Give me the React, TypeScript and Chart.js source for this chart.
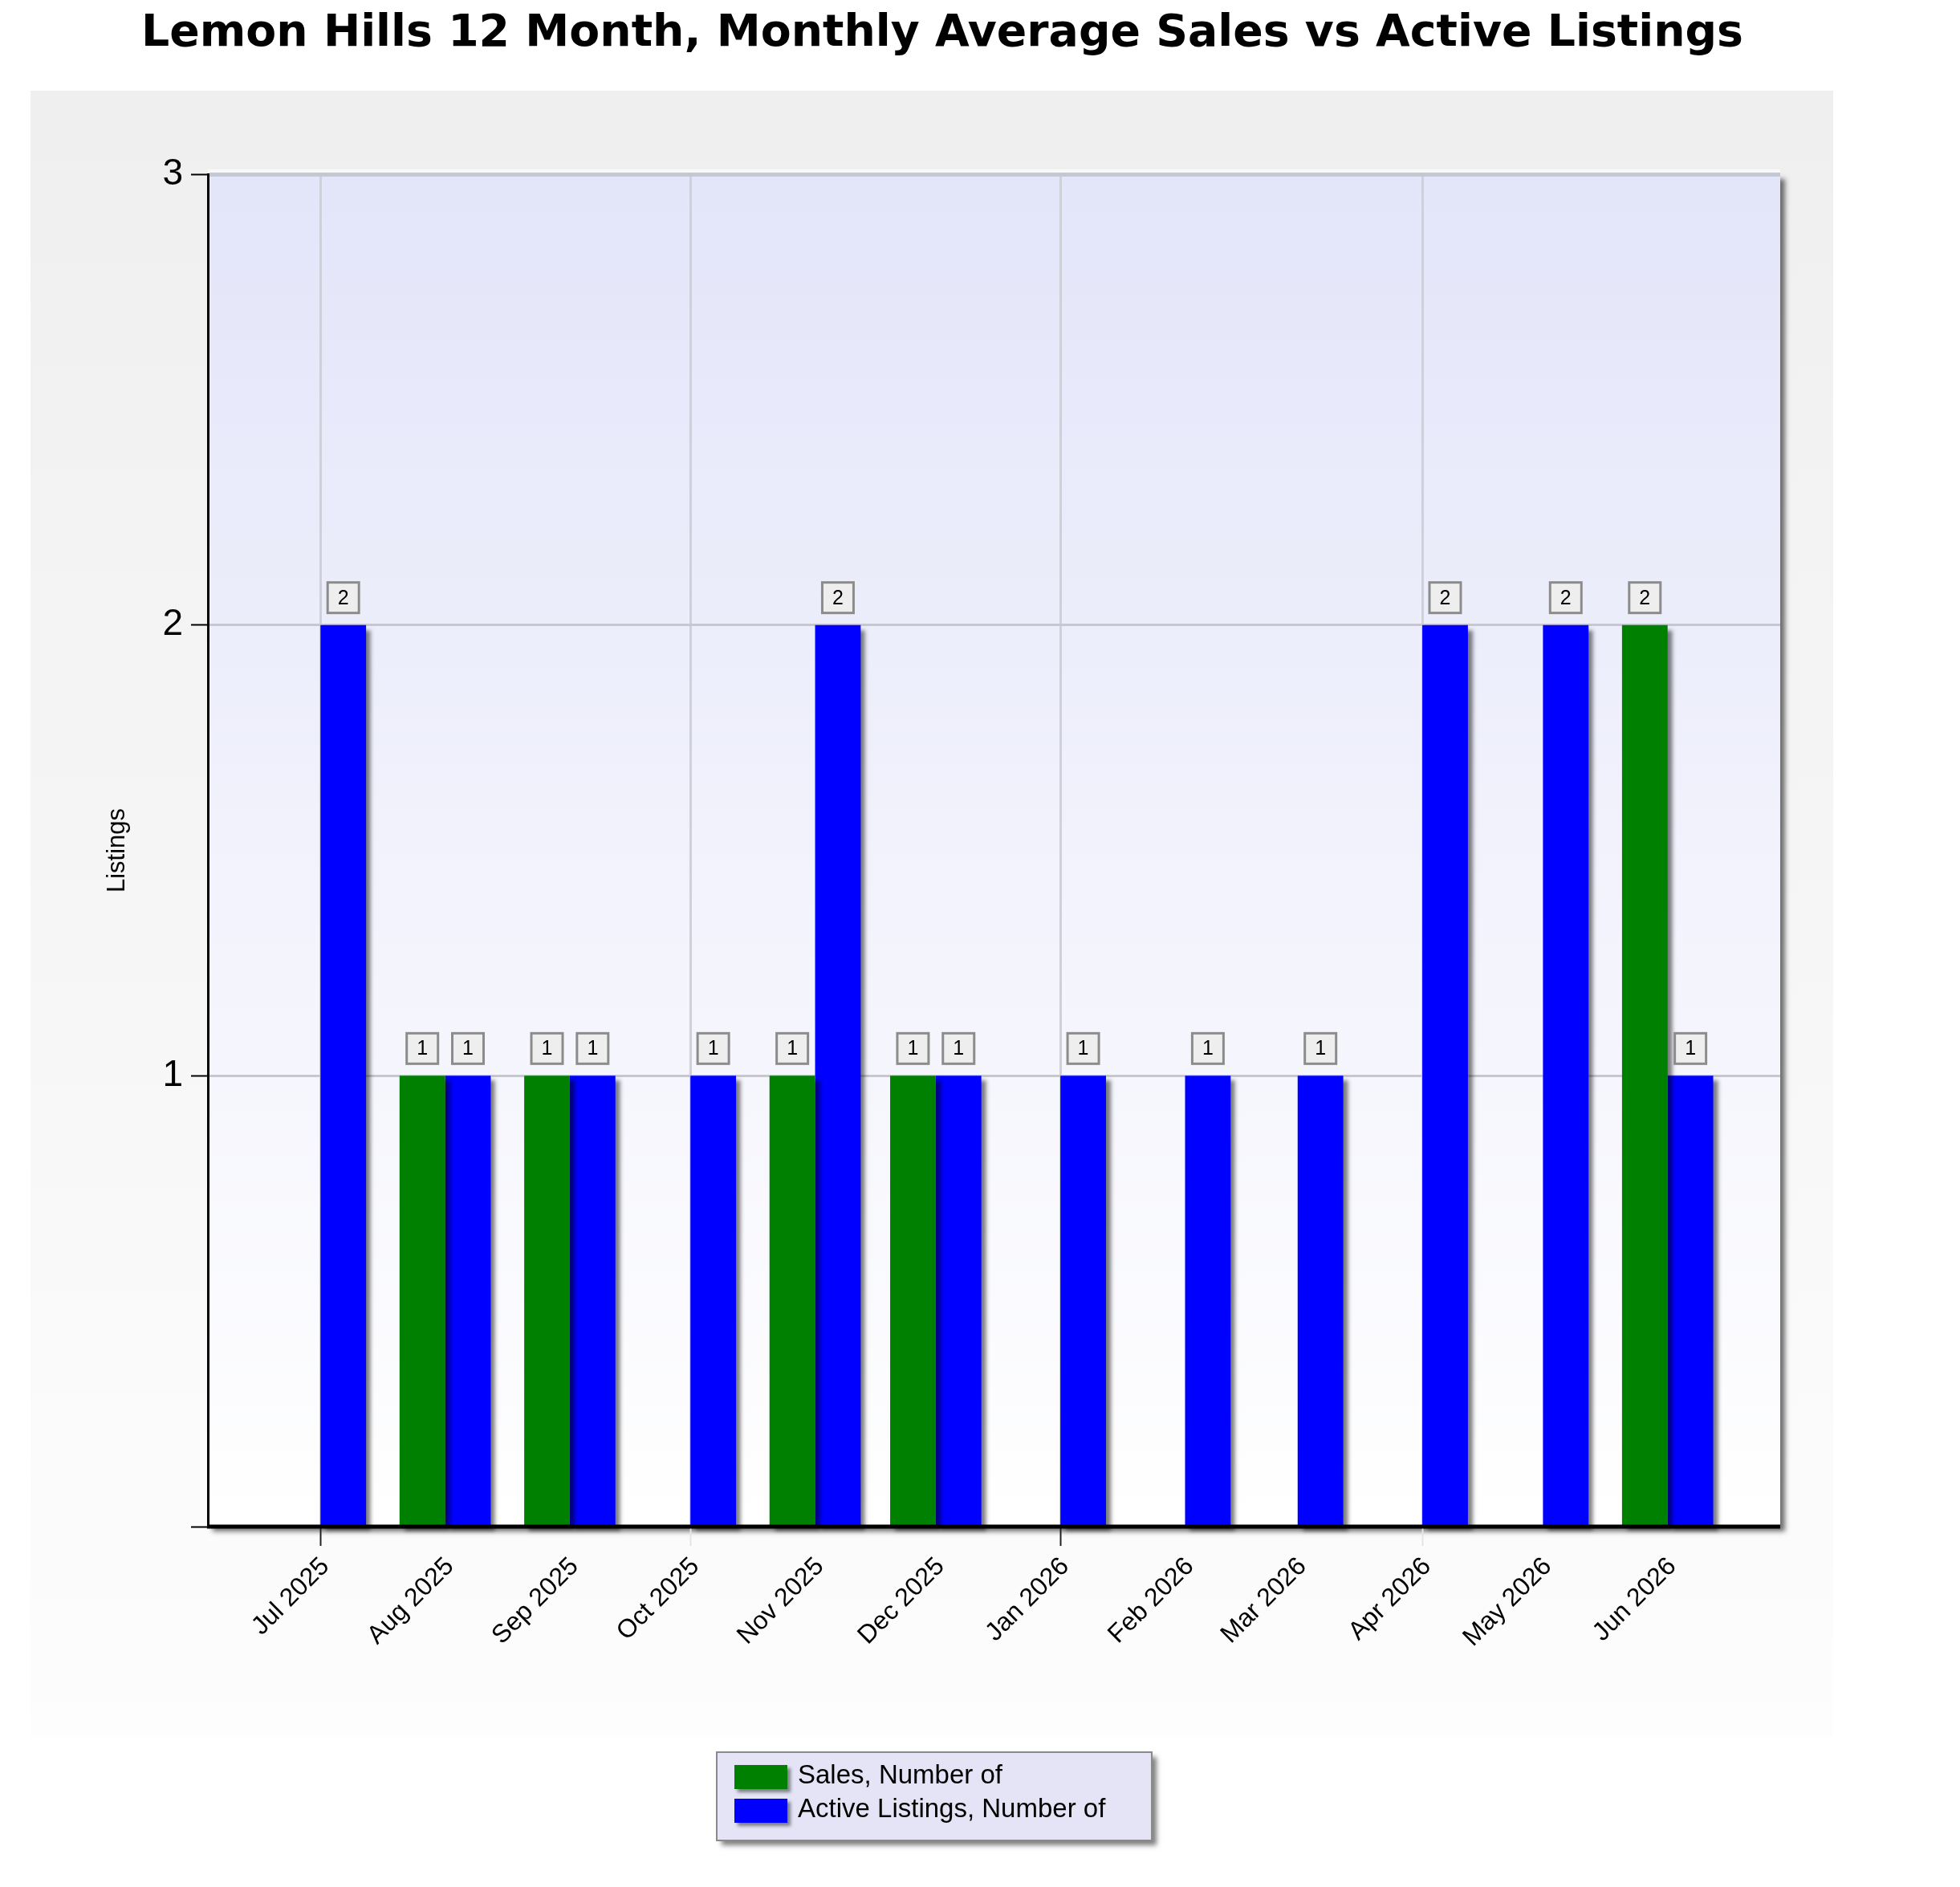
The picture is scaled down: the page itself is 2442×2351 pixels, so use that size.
import React, { useEffect, useRef } from 'react';
import { Chart, registerables } from 'chart.js';

Chart.register(...registerables);

const TITLE = 'Lemon Hills 12 Month, Monthly Average Sales vs Active Listings';
const Y_TITLE = 'Listings';
const MONTH_LABELS = [
  'Jul 2025', 'Aug 2025', 'Sep 2025', 'Oct 2025', 'Nov 2025', 'Dec 2025',
  'Jan 2026', 'Feb 2026', 'Mar 2026', 'Apr 2026', 'May 2026', 'Jun 2026',
];
const START_YEAR = 2025;
const START_MONTH = 6; // July (0-based)
const GRID_MONTHS = ['Jul 2025', 'Oct 2025', 'Jan 2026', 'Apr 2026'];
const DARK_TICK_MONTHS = ['Jul 2025', 'Jan 2026'];
const SALES = [0, 1, 1, 0, 1, 1, 0, 0, 0, 0, 0, 2];
const ACTIVE = [2, 1, 1, 1, 2, 1, 1, 1, 1, 2, 2, 1];
const SERIES_LABELS = ['Sales, Number of', 'Active Listings, Number of'];
const SERIES_COLORS = ['#008000', '#0000ff'];
const Y_MIN = 0;
const Y_MAX = 3;
const X_PAD_DAYS = 28;

const DAY_MS = 86400000;
const T0 = Date.UTC(START_YEAR, START_MONTH, 1);
const DAY_OFFSETS = MONTH_LABELS.map((_, i) =>
  Math.round((Date.UTC(START_YEAR, START_MONTH + i, 1) - T0) / DAY_MS)
);
const dayOf = (label: string) => DAY_OFFSETS[MONTH_LABELS.indexOf(label)];

const FONT = '"Liberation Sans", Arial, Helvetica, sans-serif';

const backgroundPlugin = {
  id: 'bgPanel',
  beforeDraw(chart: any) {
    const { ctx, chartArea: a } = chart;
    ctx.save();
    const g = ctx.createLinearGradient(0, 113, 0, 2164);
    g.addColorStop(0, '#efefef');
    g.addColorStop(1, '#fdfdfd');
    ctx.fillStyle = g;
    ctx.fillRect(38, 113, 2246, 2051);
    ctx.save();
    ctx.shadowColor = 'rgba(0,0,0,0.55)';
    ctx.shadowOffsetX = 6;
    ctx.shadowOffsetY = 6;
    ctx.shadowBlur = 6;
    ctx.fillStyle = '#ffffff';
    ctx.fillRect(a.left, a.top, a.right - a.left, a.bottom - a.top);
    ctx.restore();
    const pg = ctx.createLinearGradient(0, a.top, 0, a.bottom);
    pg.addColorStop(0, '#e3e5f9');
    pg.addColorStop(1, '#ffffff');
    ctx.fillStyle = pg;
    ctx.fillRect(a.left, a.top, a.right - a.left, a.bottom - a.top);
    // light highlight band just above the plot top
    ctx.fillStyle = 'rgba(255,255,255,0.6)';
    ctx.fillRect(a.left, a.top - 6, a.right - a.left, 4);
    ctx.font = 'bold 55px "DejaVu Sans", Verdana, sans-serif';
    ctx.fillStyle = '#000';
    ctx.textBaseline = 'alphabetic';
    ctx.textAlign = 'left';
    const w = ctx.measureText(TITLE).width;
    const target = 1996;
    ctx.translate(176, 57);
    ctx.scale(target / w, 1);
    ctx.fillText(TITLE, 0, 0);
    ctx.restore();
  },
};

const barShadowPlugin = {
  id: 'barShadow',
  beforeDatasetsDraw(chart: any) {
    const ctx = chart.ctx;
    ctx.save();
    ctx.shadowColor = 'rgba(0,0,0,0.5)';
    ctx.shadowOffsetX = 6;
    ctx.shadowOffsetY = 6;
    ctx.shadowBlur = 5;
  },
  afterDatasetsDraw(chart: any) {
    const { ctx, chartArea: a } = chart;
    ctx.restore();
    ctx.save();
    ctx.strokeStyle = '#000';
    ctx.lineWidth = 5;
    ctx.beginPath();
    ctx.moveTo(a.left - 1, a.bottom);
    ctx.lineTo(a.right, a.bottom);
    ctx.stroke();
    ctx.font = `25px ${FONT}`;
    ctx.textAlign = 'center';
    ctx.textBaseline = 'middle';
    chart.data.datasets.forEach((ds: any, di: number) => {
      const meta = chart.getDatasetMeta(di);
      meta.data.forEach((el: any, i: number) => {
        const v = ds.data[i].y;
        if (!v) return;
        const bw = 39;
        const bh = 38;
        const cx = el.x;
        const bottom = el.y - 15;
        ctx.fillStyle = '#eeeeee';
        ctx.fillRect(cx - bw / 2, bottom - bh, bw, bh);
        ctx.strokeStyle = '#8c8c8c';
        ctx.lineWidth = 3;
        ctx.strokeRect(cx - bw / 2, bottom - bh, bw, bh);
        ctx.fillStyle = '#000';
        ctx.fillText(String(v), cx, bottom - bh / 2 + 1);
      });
    });
    ctx.restore();
  },
};

const legendPlugin = {
  id: 'boxLegend',
  afterDraw(chart: any) {
    const ctx = chart.ctx;
    const x = 893;
    const y = 2183;
    const w = 542;
    const h = 110;
    ctx.save();
    ctx.save();
    ctx.shadowColor = 'rgba(0,0,0,0.5)';
    ctx.shadowOffsetX = 6;
    ctx.shadowOffsetY = 6;
    ctx.shadowBlur = 6;
    ctx.fillStyle = '#e4e4f6';
    ctx.fillRect(x, y, w, h);
    ctx.restore();
    ctx.strokeStyle = '#8a8a8a';
    ctx.lineWidth = 2;
    ctx.strokeRect(x, y, w, h);
    ctx.font = `33px ${FONT}`;
    ctx.textBaseline = 'middle';
    ctx.textAlign = 'left';
    chart.data.datasets.forEach((ds: any, i: number) => {
      const sy = y + 16 + i * 42;
      ctx.save();
      ctx.shadowColor = 'rgba(0,0,0,0.45)';
      ctx.shadowOffsetX = 4;
      ctx.shadowOffsetY = 4;
      ctx.shadowBlur = 4;
      ctx.fillStyle = ds.backgroundColor;
      ctx.fillRect(x + 22, sy, 66, 30);
      ctx.restore();
      ctx.fillStyle = '#000';
      ctx.fillText(ds.label, x + 101, sy + 14);
    });
    ctx.restore();
  },
};

export default function App() {
  const canvasRef = useRef<HTMLCanvasElement | null>(null);

  useEffect(() => {
    if (!canvasRef.current) return;
    const quarterDays = GRID_MONTHS.map(dayOf);
    const darkDays = DARK_TICK_MONTHS.map(dayOf);
    const chart = new Chart(canvasRef.current, {
      type: 'bar',
      data: {
        datasets: [
          {
            label: SERIES_LABELS[0],
            data: DAY_OFFSETS.map((x, i) => ({ x, y: SALES[i] })),
            backgroundColor: SERIES_COLORS[0],
            borderWidth: 0,
            categoryPercentage: 0.81,
            barPercentage: 1,
            clip: false as any,
          },
          {
            label: SERIES_LABELS[1],
            data: DAY_OFFSETS.map((x, i) => ({ x, y: ACTIVE[i] })),
            backgroundColor: SERIES_COLORS[1],
            borderWidth: 0,
            categoryPercentage: 0.81,
            barPercentage: 1,
            clip: false as any,
          },
        ],
      } as any,
      options: {
        animation: false,
        responsive: true,
        maintainAspectRatio: false,
        devicePixelRatio: 1,
        layout: { padding: { left: 0, top: 217, right: 224, bottom: 0 } },
        plugins: {
          legend: { display: false },
          title: { display: false },
          tooltip: { enabled: false },
        },
        scales: {
          x: {
            type: 'linear',
            min: DAY_OFFSETS[0] - X_PAD_DAYS,
            max: DAY_OFFSETS[DAY_OFFSETS.length - 1] + X_PAD_DAYS,
            offset: false,
            afterBuildTicks: (s: any) => {
              s.ticks = DAY_OFFSETS.map((v) => ({ value: v }));
            },
            afterFit: (s: any) => {
              s.height = 449;
            },
            ticks: {
              autoSkip: false,
              minRotation: 45,
              maxRotation: 45,
              padding: 7,
              labelOffset: 6,
              color: '#000',
              font: { family: FONT, size: 32 },
              callback: (_v: any, i: number) => MONTH_LABELS[i],
            },
            grid: {
              offset: false,
              color: (c: any) =>
                c.tick && quarterDays.includes(c.tick.value) ? '#cfd0da' : 'rgba(0,0,0,0)',
              lineWidth: 3,
              tickLength: 24,
              tickWidth: 2,
              tickColor: (c: any) =>
                c.tick && darkDays.includes(c.tick.value)
                  ? '#222'
                  : c.tick && quarterDays.includes(c.tick.value)
                  ? '#e4e4e4'
                  : 'rgba(0,0,0,0)',
            },
            border: { display: false },
          },
          y: {
            min: Y_MIN,
            max: Y_MAX,
            afterFit: (s: any) => {
              s.width = 259;
            },
            ticks: {
              stepSize: 1,
              padding: 10,
              color: '#000',
              font: { family: FONT, size: 46 },
              callback: (v: any) => (v === 0 ? '' : String(v)),
            },
            grid: {
              color: (c: any) =>
                c.tick && c.tick.value === Y_MAX
                  ? '#c4c8d2'
                  : c.tick && c.tick.value === Y_MIN
                  ? 'rgba(0,0,0,0)'
                  : '#c8c8cc',
              lineWidth: (c: any) => (c.tick && c.tick.value === Y_MAX ? 5 : 3),
              tickLength: 21,
              tickWidth: 2,
              tickColor: '#000',
            },
            border: { color: '#000', width: 3 },
            title: {
              display: true,
              text: Y_TITLE,
              color: '#000',
              font: { family: FONT, size: 31 },
              padding: { top: 128, bottom: 0 },
            },
          },
        },
      } as any,
      plugins: [backgroundPlugin, barShadowPlugin, legendPlugin],
    });
    return () => chart.destroy();
  }, []);

  return (
    <div style={{ position: 'absolute', left: 0, top: 0, width: 2442, height: 2351 }}>
      <canvas ref={canvasRef} />
    </div>
  );
}
